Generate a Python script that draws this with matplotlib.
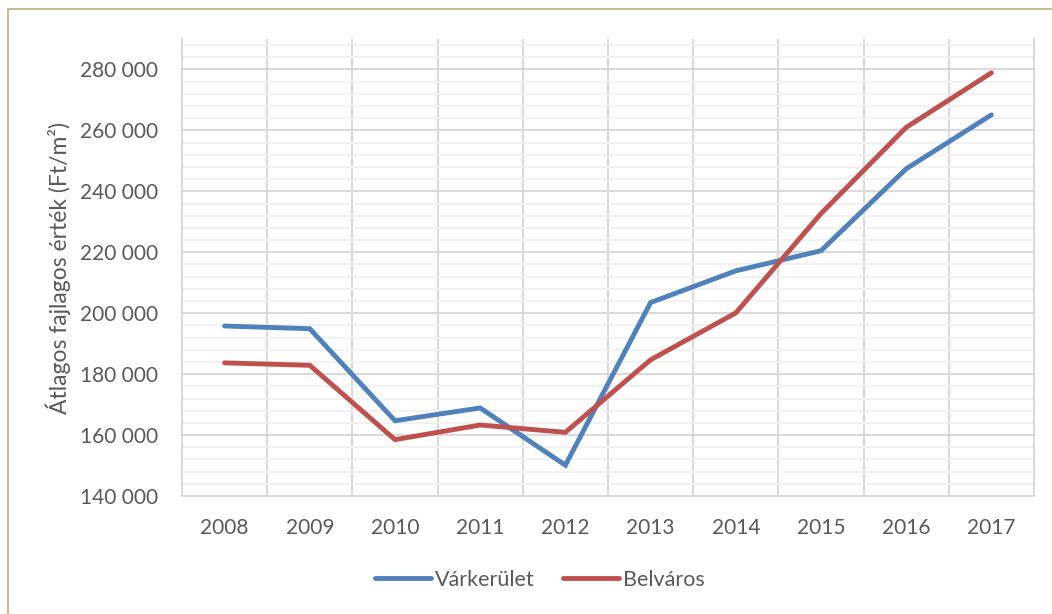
import matplotlib
matplotlib.use("Agg")
import matplotlib.pyplot as plt
from matplotlib.lines import Line2D
from matplotlib.ticker import FuncFormatter, MultipleLocator
import numpy as np

years = ["2008", "2009", "2010", "2011", "2012", "2013", "2014", "2015", "2016", "2017"]
varkerulet = [195800, 194900, 164700, 168900, 150100, 203500, 213900, 220500, 247400, 265100]
belvaros = [183700, 182900, 158500, 163300, 160900, 184700, 200100, 232700, 261000, 278900]
series_names = ["Várkerület", "Belváros"]
ylabel = "Átlagos fajlagos érték (Ft/m²)"

plt.rcParams['font.family'] = ['Lato', 'DejaVu Sans']
txt = '#595959'

fig = plt.figure(figsize=(10.52, 6.14), dpi=100)
ax = fig.add_axes([182/1052, (614-496)/614, (1034-182)/1052, (496-39)/614])

x = np.arange(len(years))
ax.plot(x, varkerulet, color='#4F81BD', lw=3.5, solid_capstyle='round', solid_joinstyle='miter', label=series_names[0], zorder=3)
ax.plot(x, belvaros, color='#C0504D', lw=3.5, solid_capstyle='round', solid_joinstyle='miter', label=series_names[1], zorder=3)

ax.set_xlim(-0.5, len(years) - 0.5)
ax.set_ylim(140000, 290000)
ax.yaxis.set_minor_locator(MultipleLocator(4000))
ax.set_yticks(np.arange(140000, 280001, 20000))
ax.yaxis.set_major_formatter(FuncFormatter(lambda v, p: f"{int(v):,}".replace(",", " ")))
ax.set_xticks(x)
ax.set_xticklabels(years)
ax.set_xticks(np.arange(-0.5, len(years), 1.0), minor=True)

ax.grid(which='major', axis='y', color='#D9D9D9', lw=1.4, zorder=1)
ax.grid(which='minor', axis='y', color='#F2F2F2', lw=1.4, zorder=0)
ax.grid(which='minor', axis='x', color='#D9D9D9', lw=1.4, zorder=1)
ax.tick_params(axis='both', which='both', length=0, colors=txt, labelsize=15)
ax.tick_params(axis='y', pad=17)
ax.tick_params(axis='x', pad=16)
ax.spines['top'].set_visible(False)
for s in ['left', 'right', 'bottom']:
    ax.spines[s].set_color('#D9D9D9')
    ax.spines[s].set_linewidth(1.4)

ax.set_ylabel(ylabel, fontsize=16.5, color=txt)
ax.yaxis.set_label_coords(-0.130, (496 - 268) / (496 - 39))

leg = fig.legend(loc='center', bbox_to_anchor=(540/1052, 1 - 580/614), ncol=2, frameon=False,
                 fontsize=15.5, handlelength=2.6, columnspacing=1.3, handletextpad=0.2)
for t in leg.get_texts():
    t.set_color(txt)

# outer frame
fig.add_artist(Line2D([8/1052, 8/1052], [0, 1 - 9/614], color='#C4BD97', lw=1.5, transform=fig.transFigure))
fig.add_artist(Line2D([8/1052, 1], [1 - 9/614, 1 - 9/614], color='#C4BD97', lw=1.5, transform=fig.transFigure))

fig.savefig("out.png", dpi=100)
